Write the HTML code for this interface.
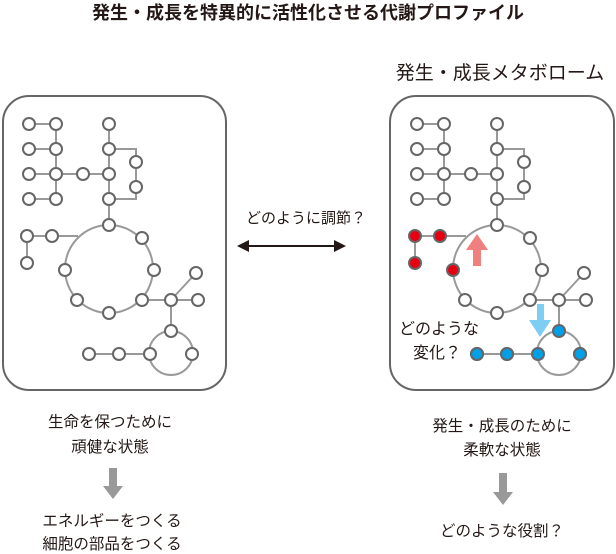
<!DOCTYPE html><html><head><meta charset="utf-8"><style>body{margin:0;background:#fff}svg{display:block}text{font-family:"Liberation Sans","Noto Sans CJK JP",sans-serif;fill:#231815}</style></head><body>
<svg width="616" height="554" viewBox="0 0 616 554">
<defs>
<g id="net">
<g stroke="#999" stroke-width="2" fill="none">
<line x1="29" y1="124" x2="56" y2="124"/><line x1="29" y1="149" x2="56" y2="149"/><line x1="29" y1="174" x2="109" y2="174"/><line x1="29" y1="199" x2="56" y2="199"/>
<line x1="56" y1="124" x2="56" y2="199"/><line x1="109" y1="124" x2="109" y2="225"/>
<polyline points="109,149 136,149 136,199 109,199"/>
<circle cx="109" cy="269" r="44"/>
<polyline points="27,263 27,236 78,236"/>
<line x1="142" y1="300" x2="198" y2="300"/><line x1="171" y1="300" x2="196" y2="273"/><line x1="171" y1="300" x2="171" y2="331"/>
<circle cx="171" cy="353" r="22"/>
<line x1="89" y1="354" x2="150" y2="354"/>
</g>
<g stroke="#666" stroke-width="2" fill="#fff">
<circle cx="29" cy="124" r="6"/><circle cx="56" cy="124" r="6"/><circle cx="109" cy="124" r="6"/>
<circle cx="29" cy="149" r="6"/><circle cx="56" cy="149" r="6"/><circle cx="109" cy="149" r="6"/>
<circle cx="29" cy="174" r="6"/><circle cx="56" cy="174" r="6"/><circle cx="83" cy="174" r="6"/><circle cx="109" cy="174" r="6"/>
<circle cx="29" cy="199" r="6"/><circle cx="56" cy="199" r="6"/><circle cx="109" cy="199" r="6"/>
<circle cx="136" cy="162" r="6"/><circle cx="136" cy="187" r="6"/>
<circle cx="109" cy="225" r="6"/><circle cx="142" cy="238" r="6"/><circle cx="154" cy="270" r="6"/><circle cx="142" cy="300" r="6"/><circle cx="109" cy="313" r="6"/><circle cx="77" cy="300" r="6"/>
<circle cx="171" cy="300" r="6"/><circle cx="198" cy="300" r="6"/><circle cx="196" cy="273" r="6"/>
<circle cx="192" cy="354" r="6"/>
<circle cx="89" cy="354" r="6"/><circle cx="119" cy="354" r="6"/>
</g>
</g>
</defs>
<text x="308" y="19" font-size="18" font-weight="bold" text-anchor="middle">発生・成長を特異的に活性化させる代謝プロファイル</text>
<text x="500" y="79" font-size="19" text-anchor="middle">発生・成長メタボローム</text>
<rect x="3" y="96" width="223" height="294" rx="26" fill="none" stroke="#666" stroke-width="2"/>
<rect x="390" y="96" width="224" height="294" rx="26" fill="none" stroke="#666" stroke-width="2"/>
<use href="#net"/>
<g stroke="#666" stroke-width="2" fill="#fff"><circle cx="27" cy="236" r="6"/><circle cx="52" cy="236" r="6"/><circle cx="27" cy="263" r="6"/><circle cx="65" cy="270" r="6"/><circle cx="150" cy="354" r="6"/><circle cx="171" cy="331" r="6"/></g>
<g transform="translate(388,0)"><use href="#net"/></g>
<g stroke="#666" stroke-width="2" fill="#e60012"><circle cx="415" cy="236" r="6"/><circle cx="440" cy="236" r="6"/><circle cx="415" cy="263" r="6"/><circle cx="453" cy="270" r="6"/></g>
<g stroke="#666" stroke-width="2" fill="#00a0e9"><circle cx="477" cy="354" r="6"/><circle cx="507" cy="354" r="6"/><circle cx="538" cy="354" r="6"/><circle cx="580" cy="354" r="6"/><circle cx="559" cy="331" r="6"/></g>
<polygon points="473,266 481,266 481,250 488,250 477,234 466,250 473,250" fill="#f08080"/>
<polygon points="537,304 544,304 544,320 551,320 540,337 529,320 537,320" fill="#7ecef4"/>
<text x="439" y="334" font-size="16" text-anchor="middle">どのような</text>
<text x="437" y="358" font-size="16" text-anchor="middle">変化？</text>
<text x="306" y="223" font-size="15" text-anchor="middle">どのように調節？</text>
<line x1="246" y1="246" x2="337" y2="246" stroke="#231815" stroke-width="2"/>
<polygon points="237,246 249,240 249,252" fill="#231815"/><polygon points="346,246 334,240 334,252" fill="#231815"/>
<g font-size="15.5" text-anchor="middle">
<text x="110" y="427">生命を保つために</text><text x="110" y="452">頑健な状態</text>
<text x="112" y="526">エネルギーをつくる</text><text x="112" y="549">細胞の部品をつくる</text>
<text x="502" y="431">発生・成長のために</text><text x="502" y="455">柔軟な状態</text>
<text x="502" y="536">どのような役割？</text>
</g>
<polygon points="109,468 117,468 117,486 123,486 113,499 103,486 109,486" fill="#999"/>
<polygon points="499,473 507,473 507,492 513,492 503,505 493,492 499,492" fill="#999"/>
</svg></body></html>
